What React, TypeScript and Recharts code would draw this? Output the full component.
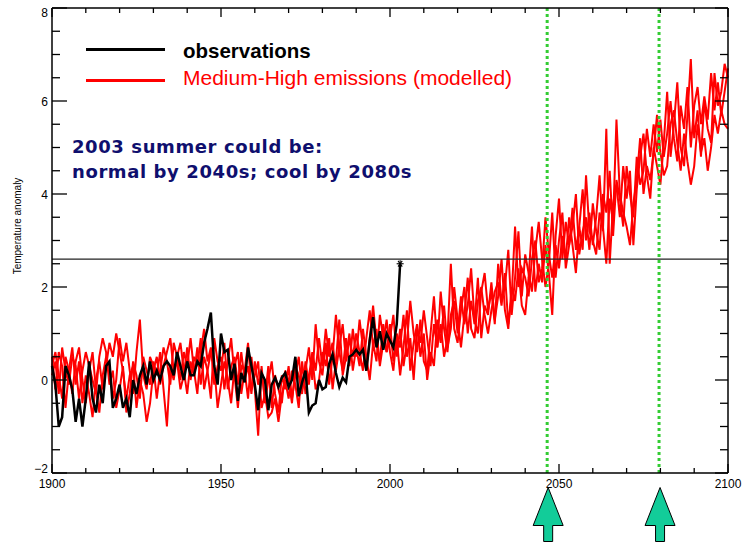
import React from 'react';
import { LineChart, Line, XAxis, YAxis, ReferenceLine, Legend } from 'recharts';

const START_YEAR = 1900;

// observed summer temperature anomaly, 1900..2003
const observations = [
  0.3, -0.1, -1.0, -0.8, 0.3, 0.1, -0.2, -0.9, -0.4, -1.0,
  -0.4, 0.4, -0.4, -0.7, -0.1, -0.5, 0.3, 0.4, -0.6, -0.4,
  -0.1, -0.6, -0.4, -0.8, 0.0, -0.3, 0.1, 0.3, -0.1, 0.4,
  0.0, 0.2, 0.0, 0.3, 0.4, 0.3, 0.1, 0.6, 0.3, 0.0,
  0.4, 0.1, 0.1, 0.4, 0.3, 0.8, 1.1, 1.45, 0.3, -0.1,
  1.0, 0.6, 0.65, 0.0, 0.35, -0.45, 0.15, -0.05, 0.7, 0.3,
  -0.1, -0.65, 0.15, 0.0, -0.65, -0.1, 0.05, -0.15, 0.05, 0.15,
  -0.15, 0.0, 0.5, -0.35, -0.05, 0.2, -0.7, -0.55, -0.5, 0.0,
  -0.2, -0.15, 0.35, 0.55, 0.15, -0.15, 0.05, -0.05, 0.5, 0.55,
  0.65, 0.55, 0.65, 0.2, 0.85, 1.35, 0.7, 1.05, 0.65, 1.0,
  0.85, 0.7, 1.2, 2.5,
];

// modelled runs, 1900..2100
const modelRun1 = [
  0.3, 0.6, 0.1, -0.4, 0.5, 0.2, -0.3, 0.4, 0.7, 0.0,
  -0.5, 0.2, 0.6, -0.2, -0.7, 0.1, 0.5, 0.3, -0.4, 0.0,
  0.9, 0.4, 0.8, 0.2, -0.3, 0.6, 1.3, 0.1, -0.2, 0.5,
  0.3, -0.4, 0.2, 0.7, 0.4, -0.1, 0.8, 0.5, 0.0, 0.6,
  0.3, 0.9, 0.2, -0.3, 0.6, 1.1, 0.4, 0.7, -0.1, 0.3,
  0.5, -0.2, 0.4, 0.9, 0.1, -0.6, 0.3, 0.2, -0.4, 0.5,
  -0.2, -1.2, 0.3, -0.5, 0.0, 0.4, -0.3, -0.7, 0.1, -0.2,
  0.3, -0.4, 0.1, 0.5, -0.2, 0.2, 0.7, 0.0, 1.2, 0.4,
  0.1, 0.8, -0.1, 0.5, 1.4, 0.6, 0.2, 0.9, 0.3, 1.1,
  0.5, 1.3, 0.7, 0.2, 0.9, 1.6, 0.8, 0.4, 1.2, 0.6,
  0.9, 1.4, 0.5, 1.1, 0.3, 0.8, 1.7, 1.0, 0.6, 1.3,
  0.4, 0.2, 1.0, 1.8, 0.7, 1.2, 0.5, 0.9, 2.5, 1.1,
  0.8, 1.5, 2.0, 1.0, 1.7, 1.2, 2.2, 0.9, 1.6, 1.4,
  2.1, 1.3, 1.8, 2.6, 1.5, 1.1, 2.0, 1.7, 2.4, 1.6,
  1.4, 2.2, 3.3, 1.9, 2.5, 2.1, 2.9, 2.3, 1.4, 3.1,
  3.9, 2.6, 3.4, 2.9, 3.7, 2.8, 3.3, 4.1, 3.0, 3.6,
  2.9, 3.5, 4.4, 3.2, 5.4, 2.5, 3.8, 4.2, 3.5, 4.6,
  3.9, 4.5, 2.9, 4.1, 4.8, 5.3, 4.4, 3.9, 5.0, 4.6,
  4.2, 5.1, 6.2, 4.8, 5.5, 6.4, 5.0, 4.6, 5.7, 6.9,
  5.2, 5.8, 4.8, 6.0, 5.4, 5.1, 6.6, 5.9, 6.2, 6.8,
  6.5,
];

const modelRun2 = [
  0.5, -0.2, 0.6, 0.3, -0.6, 0.2, 0.7, -0.1, 0.4, -0.5,
  0.1, -0.3, -0.8, 0.0, 0.4, -0.2, 0.3, 0.8, 0.5, 1.0,
  0.6, 0.2, -0.4, 0.1, 0.3, -0.6, 0.0, -0.3, -0.9, -0.5,
  0.2, 0.5, -0.1, 0.3, 0.6, 0.9, 0.2, 0.4, -0.2, 0.1,
  0.7, 0.0, 0.5, 0.3, 0.9, -0.2, 0.2, 0.6, 0.3, -0.6,
  -0.1, 0.4, 0.0, -0.5, 0.3, 0.6, -0.3, 0.2, 0.8, -0.2,
  0.1, 0.4, -0.6, -0.3, -0.8, -0.7, -0.4, -0.9, -0.3, 0.0,
  -0.4, 0.2, -0.1, -0.6, 0.4, -0.3, 0.1, 0.5, -0.2, 0.0,
  0.6, 0.3, 0.9, -0.2, 0.4, 1.3, 0.1, 0.5, 1.0, 0.2,
  0.7, 0.3, 1.1, 0.5, 0.0, 0.8, 0.4, 1.4, 0.9, 0.6,
  1.2, 0.4, 0.9, 0.1, 0.7, 1.5, 0.2, 0.8, 1.2, 0.5,
  1.0, 0.0, 0.6, 0.3, 1.3, 0.8, 1.6, 0.7, 1.1, 2.0,
  1.3, 0.7, 1.4, 2.2, 1.1, 0.9, 1.7, 2.0, 1.4, 1.0,
  1.5, 1.9, 2.1, 1.6, 2.3, 1.2, 1.8, 3.3, 2.0, 2.4,
  2.2, 1.8, 2.6, 3.0, 2.1, 2.4, 3.5, 2.7, 2.2, 2.9,
  2.4, 3.1, 2.6, 3.5, 2.9, 2.3, 3.3, 2.8, 4.4, 3.2,
  3.0, 2.7, 3.6, 3.3, 2.5, 3.9, 3.4, 5.6, 4.0, 3.6,
  3.3, 2.9, 3.8, 4.3, 5.2, 4.0, 4.6, 4.3, 4.9, 5.7,
  4.9, 4.4, 4.6, 5.5, 5.8, 5.1, 4.5, 5.3, 4.7, 4.2,
  4.6, 5.5, 4.9, 5.2, 4.5, 5.0, 5.7, 5.3, 5.8, 5.5,
  5.4,
];

const modelRun3 = [
  0.1, 0.4, -0.3, 0.7, 0.2, -0.1, 0.5, 0.3, -0.4, 0.2,
  0.6, 0.3, 0.0, -0.3, 0.5, 0.9, 0.6, -0.1, 0.2, -0.6,
  -0.2, 0.3, -0.7, -0.3, 0.4, 0.1, -0.4, 0.5, 0.2, -0.1,
  0.4, 0.1, 0.6, -0.2, -1.0, 0.3, 0.0, 0.5, 0.8, 0.2,
  -0.3, 0.4, 0.1, 0.7, -0.1, 0.5, 0.2, -0.4, 0.9, 0.4,
  0.2, 0.8, -0.2, 0.3, 0.5, -0.1, 0.6, 0.0, 0.3, -0.3,
  0.4, -0.1, 0.2, -0.4, 0.3, -0.6, 0.1, -0.2, -0.5, 0.2,
  0.0, -0.5, 0.3, 0.1, -0.3, 0.4, -0.1, 0.6, 0.2, 0.9,
  0.3, 1.1, 0.5, 0.8, 0.2, 0.7, 1.2, 0.4, 0.9, 0.5,
  1.0, 0.6, 0.2, 0.9, 1.5, 0.7, 1.1, 0.3, 0.8, 1.3,
  0.6, 0.2, 1.0, 0.7, 1.4, 0.5, 0.9, 0.0, 1.1, 0.8,
  1.5, 0.9, 0.3, 1.2, 0.7, 1.9, 1.1, 0.6, 1.4, 1.7,
  1.0, 1.8, 1.2, 1.6, 2.4, 1.3, 1.0, 1.9, 2.3, 1.5,
  1.9, 1.2, 2.5, 1.7, 2.0, 2.8, 1.4, 2.2, 3.2, 1.8,
  2.7, 2.3, 1.9, 2.8, 3.4, 2.6, 2.0, 2.5, 3.6, 2.2,
  3.0, 3.6, 2.4, 2.9, 3.3, 4.0, 2.7, 3.2, 3.5, 2.8,
  3.8, 3.2, 2.8, 4.0, 3.6, 4.5, 3.1, 4.3, 3.9, 3.3,
  4.6, 4.0, 3.5, 4.8, 4.2, 4.5, 5.4, 4.8, 5.5, 4.9,
  5.6, 4.8, 5.3, 6.0, 5.2, 4.7, 5.9, 5.4, 6.3, 5.0,
  5.9, 6.3, 5.5, 6.1, 5.6, 6.6, 5.8, 6.4, 5.7, 6.2,
  6.7,
];

const xTicks = [1900, 1910, 1920, 1930, 1940, 1950, 1960, 1970, 1980, 1990, 2000,
  2010, 2020, 2030, 2040, 2050, 2060, 2070, 2080, 2090, 2100];
const yTicks = [-2, -1.5, -1, -0.5, 0, 0.5, 1, 1.5, 2, 2.5, 3, 3.5, 4, 4.5, 5, 5.5, 6, 6.5, 7, 7.5, 8];
const thresholdValue = 2.6;
const markerYears = [2046.5, 2079.6];

const legendLabels = ['observations', 'Medium-High emissions (modelled)'];
const noteLines = ['2003 summer could be:', 'normal by 2040s; cool by 2080s'];

const data = modelRun1.map((v, i) => ({
  year: START_YEAR + i,
  obs: i < observations.length ? observations[i] : null,
  r1: v,
  r2: modelRun2[i],
  r3: modelRun3[i],
}));

const FONT = '"Liberation Sans", Arial, Helvetica, sans-serif';
const TICK_W = 1.3;

const fmt = (v: number) => (v < 0 ? '\u2212' + Math.abs(v) : String(v));

const BottomTick = (props: any) => {
  const { x, y, payload } = props;
  const v = payload.value;
  const major = v % 50 === 0;
  return (
    <g>
      <line x1={x} x2={x} y1={y} y2={y - (major ? 9 : 5)} stroke="#000" strokeWidth={TICK_W} />
      {major && (
        <text x={x} y={y + 14.5} textAnchor="middle" fontSize={12} fontFamily={FONT} fill="#000">
          {v}
        </text>
      )}
    </g>
  );
};

const TopTick = (props: any) => {
  const { x, y, payload } = props;
  const major = payload.value % 50 === 0;
  return <line x1={x} x2={x} y1={y} y2={y + (major ? 9 : 5)} stroke="#000" strokeWidth={TICK_W} />;
};

const LeftTick = (props: any) => {
  const { x, y, payload } = props;
  const v = payload.value;
  const major = v % 2 === 0;
  const dy = v === 8 ? 9 : v === -2 ? 0 : 4.5;
  return (
    <g>
      <line x1={x} x2={x + (major ? 15 : 8)} y1={y} y2={y} stroke="#000" strokeWidth={TICK_W} />
      {major && (
        <text x={x - 4} y={y + dy} textAnchor="end" fontSize={12} fontFamily={FONT} fill="#000">
          {fmt(v)}
        </text>
      )}
    </g>
  );
};

const RightTick = (props: any) => {
  const { x, y, payload } = props;
  const major = payload.value % 2 === 0;
  return <line x1={x} x2={x - (major ? 13 : 8)} y1={y} y2={y} stroke="#000" strokeWidth={TICK_W} />;
};

const MarkerShape = (props: any) => {
  const { x1, y1, y2 } = props;
  const top = Math.min(y1, y2);
  const bottom = Math.max(y1, y2);
  const cx = x1 + 1;
  const pts = [
    [cx, bottom + 14.5],
    [cx + 15, bottom + 52.5],
    [cx + 4.5, bottom + 52.5],
    [cx + 4.5, bottom + 68.5],
    [cx - 4.5, bottom + 68.5],
    [cx - 4.5, bottom + 52.5],
    [cx - 15, bottom + 52.5],
  ]
    .map((p) => p.join(','))
    .join(' ');
  return (
    <g>
      <line x1={x1} x2={x1} y1={top} y2={bottom} stroke="#33cc33" strokeWidth={3} strokeDasharray="3 3" />
      <polygon points={pts} fill="#12cc99" stroke="#000" strokeWidth={1} />
    </g>
  );
};

const ObsDot = (props: any) => {
  const { cx, cy, payload } = props;
  if (!payload || payload.year !== START_YEAR + observations.length - 1 || cx == null || cy == null) {
    return <g key={`d${props.index}`} />;
  }
  const r = 3.5;
  return (
    <g key="star" stroke="#000" strokeWidth={1.1}>
      <line x1={cx - r} x2={cx + r} y1={cy} y2={cy} />
      <line x1={cx - r * 0.6} x2={cx + r * 0.6} y1={cy - r * 0.8} y2={cy + r * 0.8} />
      <line x1={cx + r * 0.6} x2={cx - r * 0.6} y1={cy - r * 0.8} y2={cy + r * 0.8} />
      <line x1={cx} x2={cx} y1={cy - r} y2={cy + r} />
    </g>
  );
};

const LegendContent = () => (
  <svg width={744} height={100} style={{ display: 'block' }}>
    <line x1={86} x2={165} y1={49.5} y2={49.5} stroke="#000" strokeWidth={3} />
    <text x={183} y={58} fontFamily={FONT} fontWeight="bold" fontSize={20.5} fill="#000">
      {legendLabels[0]}
    </text>
    <line x1={86} x2={165} y1={80.5} y2={80.5} stroke="#ff0000" strokeWidth={3} />
    <text x={183} y={85} fontFamily={FONT} fontSize={21} fill="#ff0000">
      {legendLabels[1]}
    </text>
  </svg>
);

export default function App() {
  return (
    <div style={{ position: 'absolute', left: 0, top: 0, width: 744, height: 543, background: '#fff' }}>
      <LineChart width={744} height={543} data={data} margin={{ top: 0, right: 0, bottom: 0, left: 0 }}>
        <XAxis
          dataKey="year"
          type="number"
          domain={[1900, 2100]}
          ticks={xTicks}
          interval={0}
          height={70}
          tickSize={0}
          tickMargin={0}
          tickLine={false}
          tick={BottomTick}
          axisLine={{ stroke: '#000', strokeWidth: 1.5 }}
        />
        <XAxis
          xAxisId="top"
          orientation="top"
          dataKey="year"
          type="number"
          domain={[1900, 2100]}
          ticks={xTicks}
          interval={0}
          height={8}
          tickSize={0}
          tickMargin={0}
          tickLine={false}
          tick={TopTick}
          axisLine={{ stroke: '#000', strokeWidth: 1.5 }}
        />
        <YAxis
          type="number"
          domain={[-2, 8]}
          ticks={yTicks}
          interval={0}
          width={52}
          tickSize={0}
          tickMargin={0}
          tickLine={false}
          tick={LeftTick}
          axisLine={{ stroke: '#000', strokeWidth: 1.5 }}
        />
        <YAxis
          yAxisId="right"
          orientation="right"
          type="number"
          domain={[-2, 8]}
          ticks={yTicks}
          interval={0}
          width={16}
          tickSize={0}
          tickMargin={0}
          tickLine={false}
          tick={RightTick}
          axisLine={{ stroke: '#000', strokeWidth: 1.5 }}
        />
        <Line dataKey="r1" stroke="#ff0000" strokeWidth={2} dot={false} isAnimationActive={false} />
        <Line dataKey="r2" stroke="#ff0000" strokeWidth={2} dot={false} isAnimationActive={false} />
        <Line
          dataKey="r3"
          xAxisId="top"
          yAxisId="right"
          stroke="#ff0000"
          strokeWidth={2}
          dot={false}
          isAnimationActive={false}
        />
        <Line
          dataKey="obs"
          stroke="#000"
          strokeWidth={2.5}
          dot={ObsDot}
          activeDot={false}
          isAnimationActive={false}
        />
        <ReferenceLine y={thresholdValue} stroke="#222" strokeWidth={1.2} />
        {markerYears.map((yr) => (
          <ReferenceLine key={yr} x={yr} shape={MarkerShape} />
        ))}
        <Legend
          layout="vertical"
          align="center"
          verticalAlign="middle"
          content={LegendContent}
          wrapperStyle={{ position: 'absolute', left: 0, top: 0, width: 744, height: 100 }}
        />
        <text
          x={21}
          y={226}
          transform="rotate(-90 21 226)"
          textAnchor="middle"
          fontFamily={FONT}
          fontSize={10}
          fill="#000"
        >
          Temperature anomaly
        </text>
        {noteLines.map((t, i) => (
          <text
            key={t}
            x={72}
            y={153 + i * 25}
            fontFamily='"DejaVu Sans", Verdana, sans-serif'
            fontWeight="bold"
            fontSize={18}
            letterSpacing={0.6}
            fill="#0f0f6e"
          >
            {t}
          </text>
        ))}
      </LineChart>
    </div>
  );
}
